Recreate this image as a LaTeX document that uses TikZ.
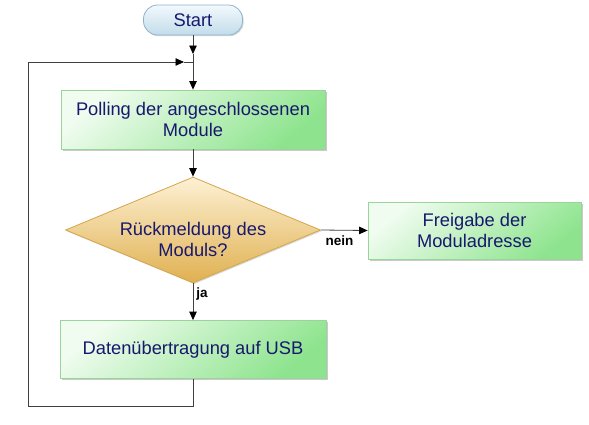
\documentclass[tikz,border=0pt]{standalone}
\usepackage{fontspec}
\setmainfont{Liberation Sans}
\usetikzlibrary{arrows.meta,shapes.geometric,shadows}
\definecolor{txtblue}{HTML}{18186E}
\definecolor{gtop}{HTML}{F0FCF0}
\definecolor{gbot}{HTML}{8EE48E}
\definecolor{gborder}{HTML}{9AD49A}
\definecolor{dtop}{HTML}{FDF1D4}
\definecolor{dbot}{HTML}{E0B050}
\definecolor{dborder}{HTML}{D4A64A}
\definecolor{btop}{HTML}{F2F9FD}
\definecolor{bbot}{HTML}{C2DCEA}
\definecolor{bborder}{HTML}{8EB4CC}
\definecolor{linecol}{HTML}{404040}
\begin{document}
\begin{tikzpicture}[x=1pt,y=-1pt,
  every node/.style={font=\fontsize{18.3}{21.5}\selectfont, text=txtblue, align=center, inner sep=0pt},
  procbox/.style={draw=gborder, line width=0.8pt, shading=axis, top color=gtop, bottom color=gbot, shading angle=40,
     drop shadow={shadow xshift=1.5pt, shadow yshift=-1.5pt, fill=black!35, opacity=0.6}},
  startbox/.style={draw=bborder, line width=0.8pt, rounded corners=14pt, top color=btop, bottom color=bbot,
     drop shadow={shadow xshift=1.2pt, shadow yshift=-1.2pt, fill=black!30, opacity=0.5}},
  decbox/.style={diamond, draw=dborder, line width=0.8pt, top color=dtop, bottom color=dbot,
     drop shadow={shadow xshift=1.2pt, shadow yshift=-1.2pt, fill=black!30, opacity=0.5}},
  conn/.style={draw=linecol, line width=0.8pt},
  tip/.style={-{Triangle[length=8.5pt,width=7.5pt,fill=black,color=black]}},
  lbl/.style={font=\bfseries\fontsize{13.5}{15}\selectfont, text=black, inner sep=2pt}]
\useasboundingbox (0,0) rectangle (589,424);

\node[startbox, minimum width=99pt, minimum height=30pt] (start) at (193,20) {Start};
\node[procbox, minimum width=264pt, minimum height=59pt] (poll) at (193,119.5) {Polling der angeschlossenen\\Module};
\node[decbox, minimum width=255pt, minimum height=106pt] (dec) at (193,230) {};
\node (dectext) at (193,239.5) {Rückmeldung des\\Moduls?};
\node[procbox, minimum width=213pt, minimum height=57pt] (frei) at (474.5,230.5) {Freigabe der\\Moduladresse};
\node[procbox, minimum width=266pt, minimum height=58pt] (daten) at (193,349.5) {Datenübertragung auf USB};

\coordinate (stip) at (193,54);
\coordinate (merge) at (193,62);
\coordinate (loopin) at (184,62);
\coordinate (ltl) at (28,62);
\coordinate (lbl) at (28,406);
\coordinate (lb) at (193,406);

\draw[conn,tip] (start.south) -- (stip);
\draw[conn] (stip) -- (merge);
\draw[conn,tip] (merge) -- (poll.north);
\draw[conn,tip] (poll.south) -- (dec.north);
\draw[conn,tip] (dec.east) -- node[lbl, pos=0.4, below=3pt] {nein} (frei.west);
\draw[conn,tip] (dec.south) -- node[lbl, pos=0.3, anchor=west, xshift=1pt] {ja} (daten.north);
\draw[conn,tip] (daten.south) -- (lb) -- (lbl) -- (ltl) -- (loopin);
\draw[conn] (loopin) -- (merge);
\end{tikzpicture}
\end{document}
